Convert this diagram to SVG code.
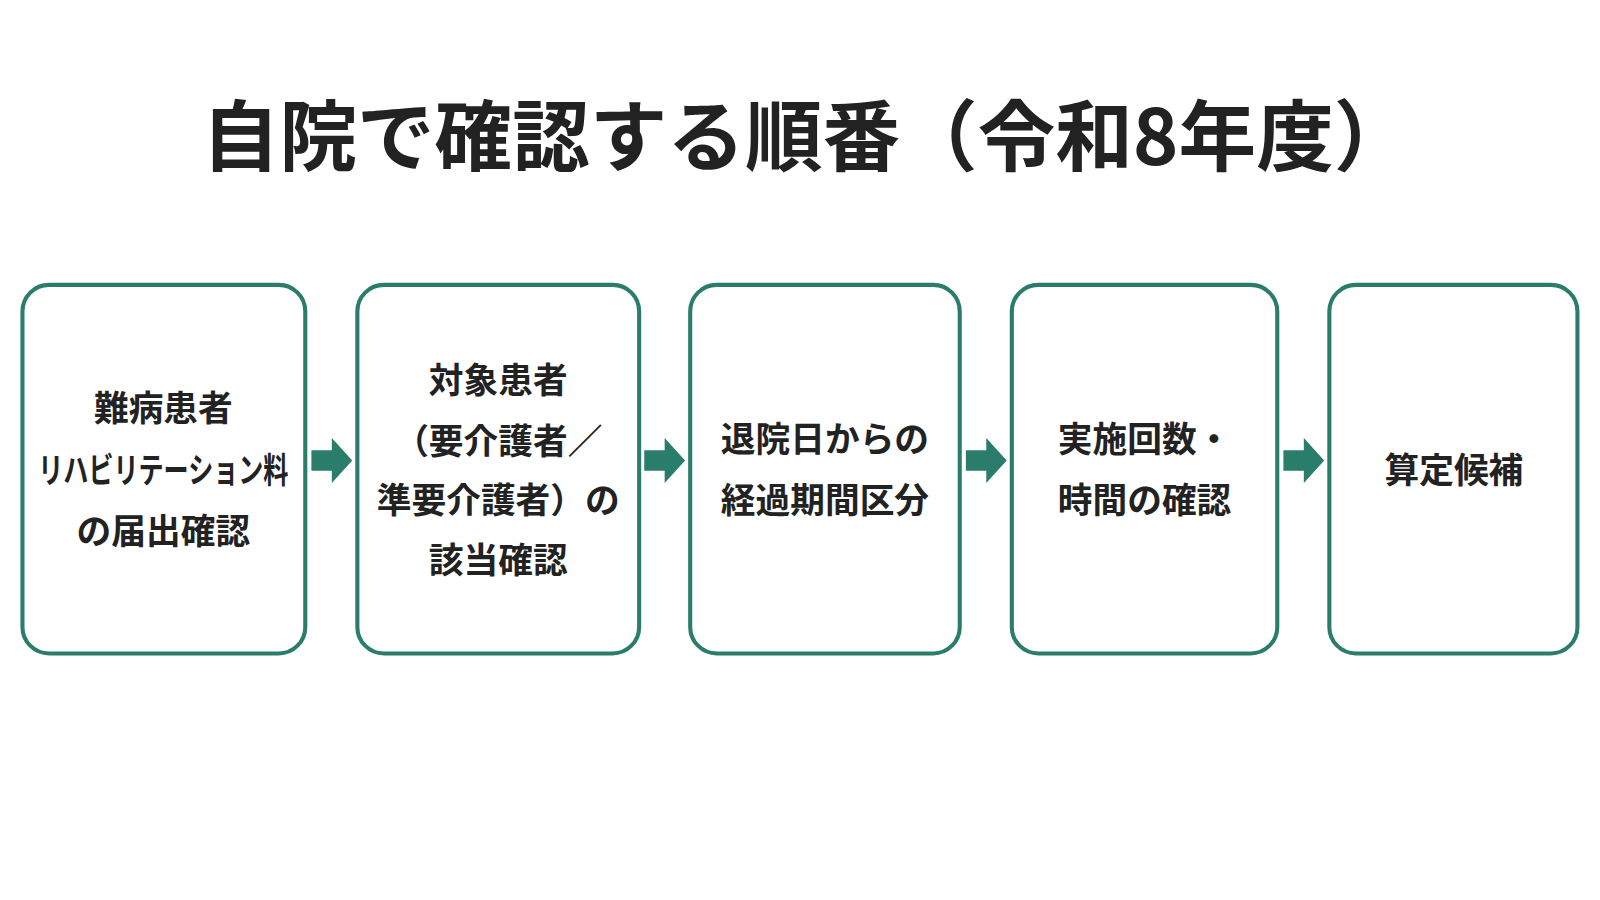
<svg xmlns="http://www.w3.org/2000/svg" width="1600" height="900" viewBox="0 0 1600 900">
<style>
.box{fill:#fff;stroke:#2a7d6a;stroke-width:4}
.t{font-family:"Noto Sans CJK JP","Noto Sans",sans-serif;font-weight:700;fill:#222;font-size:34px;text-anchor:middle;dominant-baseline:central}
.arr{fill:#2a7d6a}
</style>
<rect width="1600" height="900" fill="#fff"/>
<g transform="scale(1.021)">
<text class="t" x="790" y="128" style="font-size:76px">自院で確認する順番（令和8年度）</text>
<g id="n1"><rect class="box" x="22" y="279" width="277" height="361" rx="26"/>
<text class="t" x="160" y="398">難病患者</text>
<text class="t" x="160" y="458" textLength="245" lengthAdjust="spacingAndGlyphs">リハビリテーション料</text>
<text class="t" x="160" y="518">の届出確認</text></g>
<g id="n2"><rect class="box" x="350" y="279" width="276" height="361" rx="26"/>
<text class="t" x="488" y="370">対象患者</text>
<text class="t" x="488" y="430">（要介護者／</text>
<text class="t" x="488" y="488">準要介護者）の</text>
<text class="t" x="488" y="547">該当確認</text></g>
<g id="n3"><rect class="box" x="676" y="279" width="264" height="361" rx="26"/>
<text class="t" x="808" y="428">退院日からの</text>
<text class="t" x="808" y="488">経過期間区分</text></g>
<g id="n4"><rect class="box" x="991" y="279" width="260" height="361" rx="26"/>
<text class="t" x="1121" y="428">実施回数・</text>
<text class="t" x="1121" y="488">時間の確認</text></g>
<g id="n5"><rect class="box" x="1302" y="279" width="243" height="361" rx="26"/>
<text class="t" x="1424" y="458">算定候補</text></g>
<g id="connectors">
<path class="arr" d="M305 441h20v-12l20 22-20 22v-12h-20z"/>
<path class="arr" d="M631 441h20v-12l20 22-20 22v-12h-20z"/>
<path class="arr" d="M946 441h20v-12l20 22-20 22v-12h-20z"/>
<path class="arr" d="M1257 441h20v-12l20 22-20 22v-12h-20z"/>
</g>
</g>
</svg>
